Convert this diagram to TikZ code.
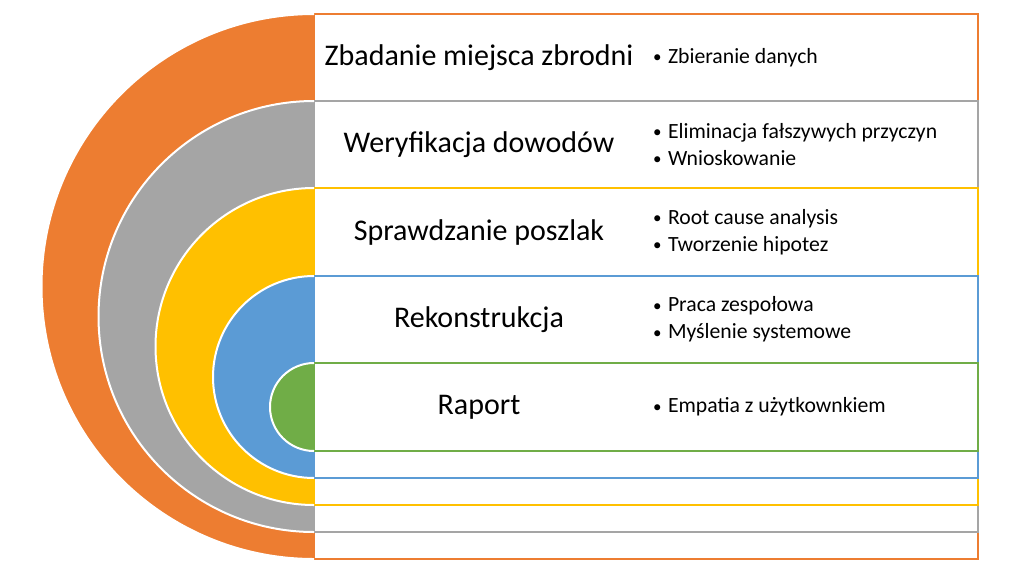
\documentclass[tikz,border=0pt]{standalone}
\usepackage{fontspec}
\setmainfont{Carlito}
\definecolor{cOrange}{HTML}{ED7D31}
\definecolor{cGray}{HTML}{A5A5A5}
\definecolor{cYellow}{HTML}{FFC000}
\definecolor{cBlue}{HTML}{5B9BD5}
\definecolor{cGreen}{HTML}{70AD47}
\tikzset{
  rowbox/.style={fill=white, line width=2pt},
  discedge/.style={draw=white, line width=2pt},
  titletext/.style={font=\fontsize{30}{36}\selectfont, text=black, inner sep=0pt},
  bullettext/.style={font=\fontsize{21.7}{27}\selectfont, text=black, inner sep=0pt, outer sep=0pt, anchor=west, align=left},
}
\newcommand{\lvl}[4]{% color, top, bottom, radius
  \draw[rowbox, draw=#1] (314,#2) rectangle (978,#3);
  \fill[#1] (314,#2) arc[start angle=-90, end angle=-270, radius=#4] -- cycle;
  \draw[discedge] (314,#2) arc[start angle=-90, end angle=-270, radius=#4];
}
\newcommand{\bul}{\makebox[15pt][l]{\raisebox{0.5pt}{\fontsize{17}{20}\selectfont •}}}
\begin{document}
\begin{tikzpicture}[x=1pt,y=-1pt]
\useasboundingbox (0,0) rectangle (1024,576);
\fill[white] (0,0) rectangle (1024,576);
\lvl{cOrange}{14}{559}{272.5}
\lvl{cGray}{101}{532}{215.5}
\lvl{cYellow}{188}{505}{158.5}
\lvl{cBlue}{276}{478}{101}
\lvl{cGreen}{363}{451}{44}
\node[titletext] (t1) at (479,57.5) {Zbadanie miejsca zbrodni};
\node[titletext] (t2) at (479,144.5) {Weryfikacja dowodów};
\node[titletext] (t3) at (479,232) {Sprawdzanie poszlak};
\node[titletext] (t4) at (479,319.5) {Rekonstrukcja};
\node[titletext] (t5) at (479,407) {Raport};
\node[bullettext] (b1) at (653,57.5) {\bul Zbieranie danych};
\node[bullettext] (b2) at (653,144.5) {\bul Eliminacja fałszywych przyczyn\\\bul Wnioskowanie};
\node[bullettext] (b3) at (653,232) {\bul Root cause analysis\\\bul Tworzenie hipotez};
\node[bullettext] (b4) at (653,319.5) {\bul Praca zespołowa\\\bul Myślenie systemowe};
\node[bullettext] (b5) at (653,407) {\bul Empatia z użytkownkiem};
\end{tikzpicture}
\end{document}
